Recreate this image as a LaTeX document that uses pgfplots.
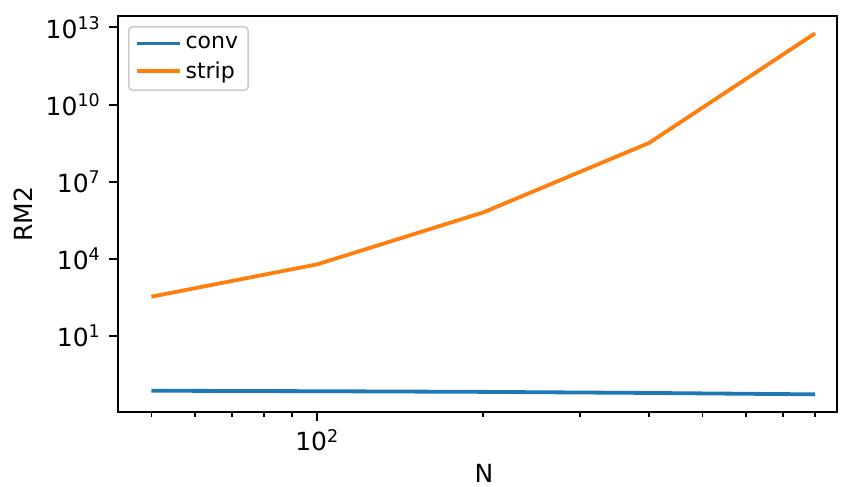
\documentclass[border=0pt]{standalone}
\usepackage{pgfplots}
\pgfplotsset{compat=1.18}
\usepackage{fontspec}
\setmainfont{DejaVu Sans}
\definecolor{mplblue}{HTML}{1F77B4}
\definecolor{mplorange}{HTML}{FF7F0E}
\begin{document}
\begin{tikzpicture}
\useasboundingbox (-59pt,-37.5pt) rectangle (362.5pt,206pt);
\begin{axis}[
  scale only axis,
  width=359.5pt, height=198pt,
  xmode=log, ymode=log,
  xmin=43.5, xmax=877,
  ymin=0.0107, ymax=2.8e13,
  xtick={100}, xticklabels={10\textsuperscript{2}},
  minor xtick={50,60,70,80,90,200,300,400,500,600,700,800},
  ytick={1e1,1e4,1e7,1e10,1e13},
  yticklabels={10\textsuperscript{1},10\textsuperscript{4},10\textsuperscript{7},10\textsuperscript{10},10\textsuperscript{13}},
  minor ytick={},
  xtick pos=bottom, ytick pos=left,
  tick align=outside,
  major tick length=4.4pt, minor tick length=2.5pt,
  every major tick/.append style={line width=1pt, black},
  every minor tick/.append style={line width=0.75pt, black},
  axis line style={line width=1pt},
  ticklabel style={font=\fontsize{12.5}{15}\selectfont},
  yticklabel style={inner sep=1pt, xshift=-3pt},
  xticklabel style={inner sep=1pt, yshift=-3pt},
  xlabel={N}, ylabel={RM2},
  label style={font=\fontsize{12.5}{15}\selectfont},
  xlabel style={at={(axis description cs:0.509,-0.155)}, anchor=center, inner sep=0pt},
  ylabel style={at={(axis description cs:-0.132,0.5)}, anchor=center, rotate=0},
  legend cell align=left,
  legend image code/.code={\draw[#1] (0pt,0pt) -- (21.5pt,0pt);},
  legend style={at={(axis description cs:0,1)}, anchor=north west, xshift=5pt, yshift=-5pt,
    draw=black!20, line width=0.8pt, rounded corners=2pt, fill=white, fill opacity=0.8, text opacity=1,
    font=\fontsize{11}{13}\selectfont, inner xsep=3pt, inner ysep=2.5pt, row sep=1.2pt,
    nodes={inner sep=2pt}},
]
\addplot[mplblue, line width=1.9pt] coordinates {(50,0.072) (100,0.069) (200,0.065) (400,0.059) (800,0.052)};
\addlegendentry{conv}
\addplot[mplorange, line width=1.9pt] coordinates {(50,330) (100,6000) (200,6.3e5) (400,3.2e8) (800,5.9e12)};
\addlegendentry{strip}
\end{axis}
\end{tikzpicture}
\end{document}
